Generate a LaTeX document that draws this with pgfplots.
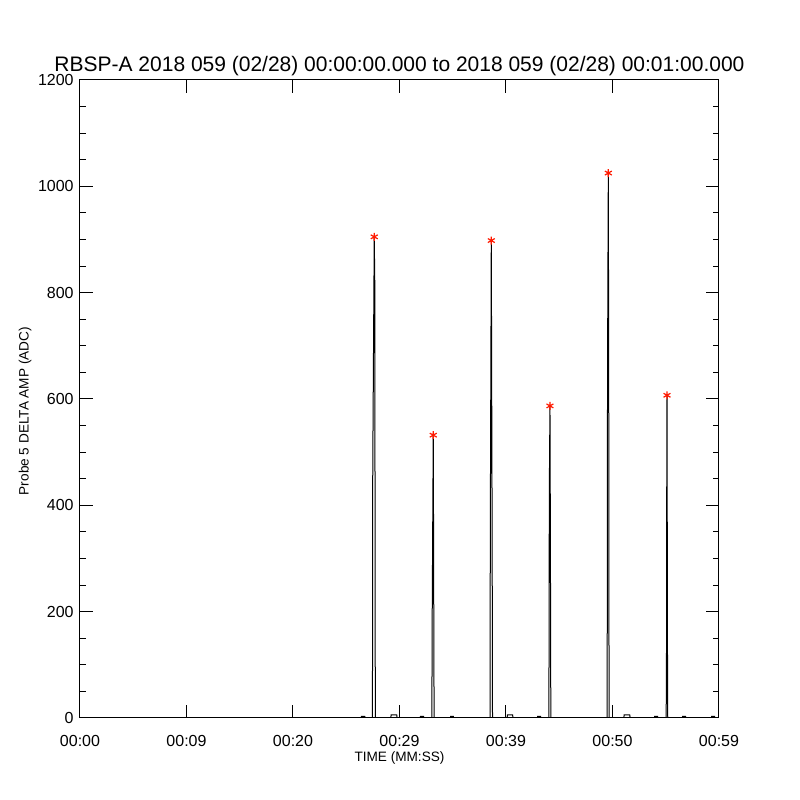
\documentclass[border=0pt]{standalone}
\usepackage{fontspec}
\setmainfont{Liberation Sans}
\usepackage{pgfplots}
\pgfplotsset{compat=1.18}
\definecolor{idlred}{RGB}{255,25,0}
\begin{document}
\begin{tikzpicture}
\path[use as bounding box] (0,0) rectangle (400pt,400pt);
\begin{axis}[
  at={(40pt,41pt)}, anchor=south west,
  scale only axis, width=319.5pt, height=319pt,
  xmin=0, xmax=60, ymin=0, ymax=1200,
  axis line style={line width=0.5pt},
  every tick/.style={line width=0.5pt, black},
  tick align=inside,
  major tick length=6.4pt, minor tick length=3.2pt,
  xtick={0,10,20,30,40,50,60},
  xticklabels={00:00,00:09,00:20,00:29,00:39,00:50,00:59},
  ytick={0,200,400,600,800,1000,1200},
  minor ytick={50,100,150,250,300,350,450,500,550,650,700,750,850,900,950,1050,1100,1150},
  /pgf/number format/assume math mode=true,
  /pgf/number format/1000 sep={},
  tick label style={font=\fontsize{8}{9}\selectfont},
  xticklabel style={anchor=center, inner sep=0pt, yshift=-11.5pt},
  yticklabel style={anchor=east, inner sep=0pt, xshift=-3pt},
  title={RBSP-A 2018 059 (02/28) 00:00:00.000 to 2018 059 (02/28) 00:01:00.000},
  title style={at={(axis description cs:0.5,1.025)}, anchor=center, yshift=-7pt, font=\fontsize{10.5}{12}\selectfont},
  xlabel={TIME (MM:SS)},
  xlabel style={at={(axis description cs:0.5,-0.0627)}, anchor=center, font=\fontsize{6.8}{8}\selectfont},
  ylabel={Probe 5 DELTA AMP (ADC)},
  ylabel style={at={(axis description cs:-0.086,0.481)}, anchor=center, rotate=0, font=\fontsize{6.8}{8}\selectfont},
]
\addplot[black, line width=0.5pt, mark=none] coordinates {
(0,0)
(26.40,0)(26.42,3)(26.74,3)(26.76,0)
(27.46,0)(27.49,470)(27.63,905)(27.68,818)(27.70,470)(27.73,0)
(29.18,0)(29.22,6)(29.74,6)(29.78,0)
(31.95,0)(31.97,3)(32.27,3)(32.29,0)
(33.04,0)(33.07,185)(33.17,532)(33.21,280)(33.22,185)(33.25,0)
(34.78,0)(34.80,3)(35.06,3)(35.08,0)
(38.50,0)(38.53,367)(38.62,898)(38.68,465)(38.70,367)(38.73,13)(38.75,0)
(40.10,0)(40.14,6)(40.62,6)(40.66,0)
(42.95,0)(42.97,3)(43.25,3)(43.27,0)
(44.03,0)(44.07,429)(44.13,587)(44.17,335)(44.21,0)
(49.50,0)(49.53,566)(49.56,786)(49.61,1025)(49.65,566)(49.68,0)
(51.06,0)(51.10,6)(51.62,6)(51.66,0)
(53.94,0)(53.96,3)(54.24,3)(54.26,0)
(55.04,0)(55.07,92)(55.09,397)(55.12,607)(55.17,75)(55.19,0)
(56.56,0)(56.58,3)(56.86,3)(56.88,0)
(59.29,0)(59.31,3)(59.59,3)(59.61,0)
(60,0)
};
\addplot[only marks, mark=asterisk, mark size=2pt, idlred, mark options={line width=0.6pt}] coordinates {
(27.63,905)(33.17,532)(38.62,898)(44.13,587)(49.61,1025)(55.12,607)
};
\end{axis}
\end{tikzpicture}
\end{document}
